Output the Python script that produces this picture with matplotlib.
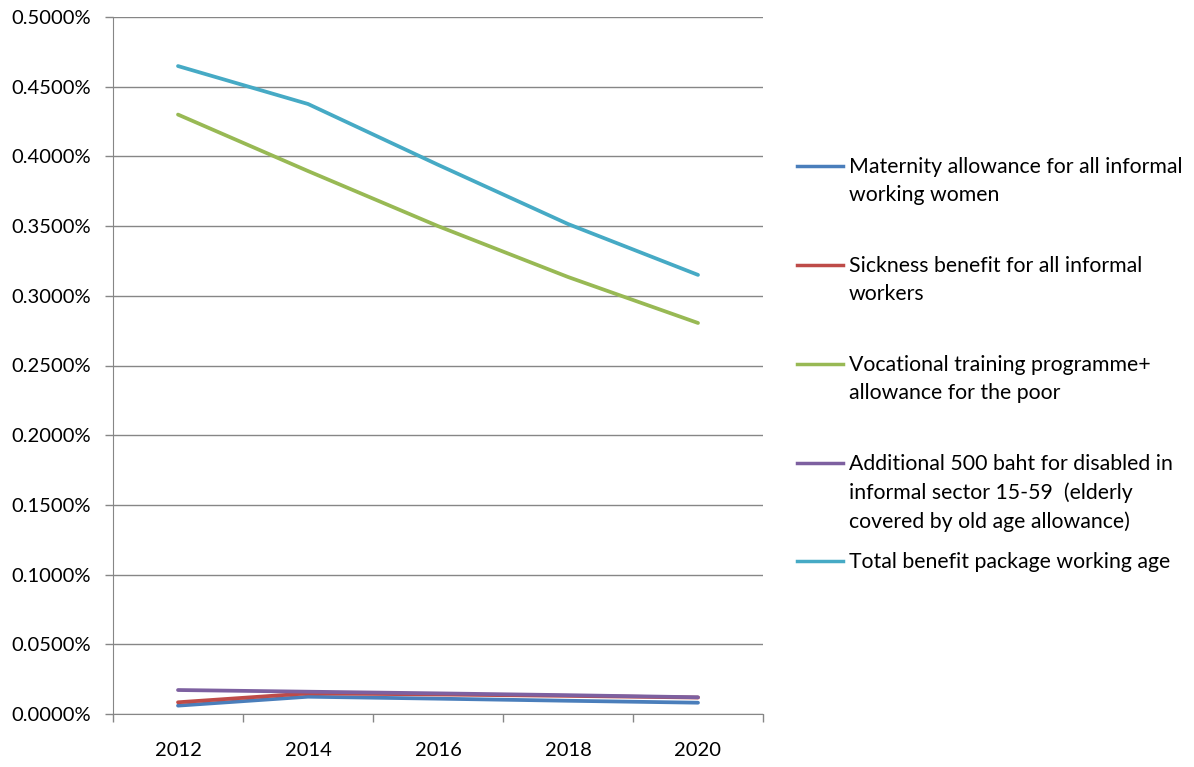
import matplotlib
matplotlib.use("Agg")
import matplotlib.pyplot as plt
from matplotlib.lines import Line2D
from matplotlib.ticker import FuncFormatter, FixedLocator

years = ["2012", "2014", "2016", "2018", "2020"]
maternity = [0.0060, 0.0124, 0.0110, 0.0095, 0.0081]
sickness = [0.0084, 0.0148, 0.0140, 0.0130, 0.0118]
vocational = [0.4300, 0.3895, 0.3500, 0.3135, 0.2805]
disabled = [0.0172, 0.0160, 0.0148, 0.0135, 0.0120]
total = [0.4648, 0.4376, 0.3940, 0.3515, 0.3150]

labels = [
    "Maternity allowance for all informal\nworking women",
    "Sickness benefit for all informal\nworkers",
    "Vocational training programme+\nallowance for the poor",
    "Additional 500 baht for disabled in\ninformal sector 15-59  (elderly\ncovered by old age allowance)",
    "Total benefit package working age",
]
series = [maternity, sickness, vocational, disabled, total]
colors = ["#4A7EBB", "#BE4B48", "#98B954", "#7D60A0", "#46AAC5"]

plt.rcParams['font.family'] = ['Lato', 'DejaVu Sans']
FS = 14.5
LFS = 15.3

W, H = 1194, 767
fig = plt.figure(figsize=(W / 100, H / 100), dpi=100)
ax = fig.add_axes([113 / W, 1 - 714 / H, (763 - 113) / W, (714 - 17) / H])

x = list(range(len(years)))
lines = []
for s, c, lab in zip(series, colors, labels):
    ln, = ax.plot(x, s, color=c, lw=2.7, solid_capstyle='round', label=lab)
    lines.append(ln)

ax.set_xlim(-0.5, len(years) - 0.5)
ax.set_ylim(0, 0.5)
ax.set_yticks([i * 0.05 for i in range(11)])
ax.yaxis.set_major_formatter(FuncFormatter(lambda v, p: f"{v:.4f}%"))
ax.set_xticks(x)
ax.set_xticklabels(years)
ax.xaxis.set_minor_locator(FixedLocator([i - 0.5 for i in range(len(years) + 1)]))
ax.tick_params(axis='x', which='major', length=0, pad=20, labelsize=FS, colors='black')
ax.tick_params(axis='x', which='minor', length=6, color='#868686', width=1)
ax.tick_params(axis='y', length=6, color='#868686', width=1, labelsize=FS, pad=10)
ax.grid(axis='y', color='#868686', lw=1)
ax.set_axisbelow(True)
for sp in ['top', 'right']:
    ax.spines[sp].set_visible(False)
ax.spines['left'].set_color('#868686')
ax.spines['bottom'].set_color('#868686')

# legend (manual, Excel-style: handle aligned to first text line)
ys = [166, 265, 364, 463, 561]
for ln, lab, yy in zip(lines, labels, ys):
    yf = 1 - yy / H
    fig.add_artist(Line2D([797 / W, 843 / W], [yf, yf], color=ln.get_color(), lw=2.5))
    fig.text(849 / W, 1 - (yy - 9) / H, lab, fontsize=LFS, va='top', ha='left',
             linespacing=1.5)

fig.savefig("out.png", dpi=100)
